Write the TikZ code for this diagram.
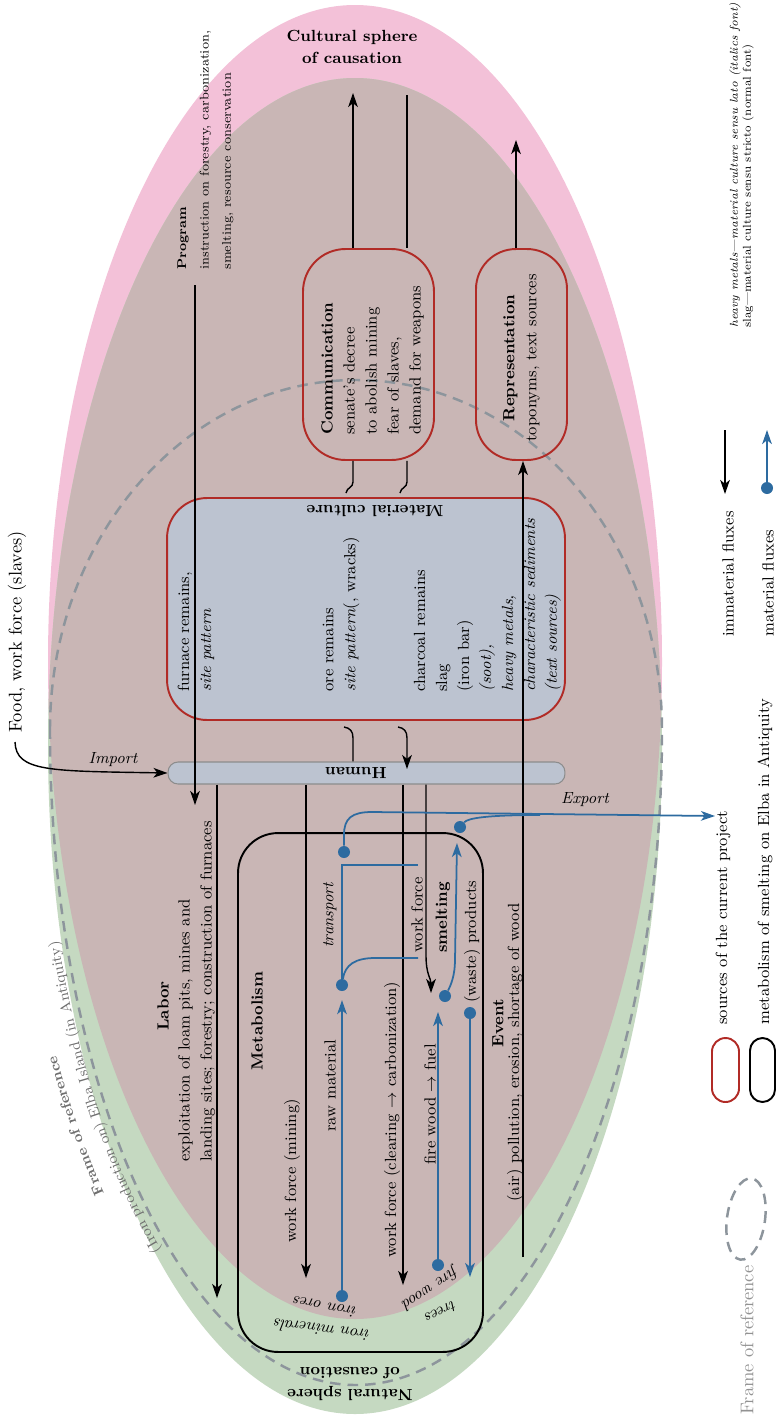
\documentclass[tikz,border=0pt]{standalone}
\usetikzlibrary{arrows.meta,shapes.geometric,decorations.text,positioning}
\definecolor{cultpink}{HTML}{F3C1D8}
\definecolor{natgreen}{HTML}{C5D9C1}
\definecolor{overlap}{HTML}{C9B6B5}
\definecolor{mcblue}{HTML}{BCC3D0}
\definecolor{humangray}{HTML}{8C8C8C}
\definecolor{srcred}{HTML}{B12B26}
\definecolor{fluxblue}{HTML}{2D6BA0}
\definecolor{framegray}{HTML}{8D959C}
\definecolor{frametxt}{HTML}{6E6E6E}
\definecolor{legframe}{HTML}{929292}
\newcommand\diagfont{\fontsize{9.2}{12.5}\selectfont}
\tikzset{
  txt/.style={font=\diagfont, inner sep=0pt},
  vtxt/.style={txt, rotate=90, anchor=west, align=left},
  hd/.style={txt, font=\diagfont\bfseries},
  srcbox/.style={draw=srcred, line width=1.1pt},
  blk/.style={draw=black, line width=0.8pt},
  imm/.style={blk, -{Stealth[length=8pt,width=5.5pt,inset=2.2pt]}},
  matl/.style={draw=fluxblue, line width=1pt},
  mat/.style={matl, -{Stealth[length=8pt,width=5.5pt,inset=2.2pt]}},
  bdot/.style={circle, fill=fluxblue, inner sep=0pt, minimum size=0.24cm},
  refdash/.style={draw=framegray, line width=1.4pt, dash pattern=on 6pt off 4pt},
}
\begin{document}
\begin{tikzpicture}[x=0.02cm,y=0.02cm]
\useasboundingbox (0,0) rectangle (776,-1420);

% spheres of causation
\fill[cultpink] (355,-662) ellipse (307 and 657);
\fill[natgreen] (355,-746) ellipse (307 and 668);
\begin{scope}
\clip (355,-662) ellipse (307 and 657);
\fill[overlap] (355,-746) ellipse (307 and 668);
\end{scope}
\node[hd, align=center] (cultural) at (352,-47) {Cultural sphere\\of causation};
\node[hd, align=center, rotate=180] (natural) at (350,-1384) {Natural sphere\\of causation};

% frame of reference
\draw[refdash] (50,-730) arc[start angle=180, end angle=0, x radius=306, y radius=350]
  arc[start angle=0, end angle=-180, x radius=306, y radius=655];
\path[decorate, decoration={text along path, text color=frametxt,
  text={|\fontsize{8.2}{9}\selectfont\bfseries|Frame of reference}}]
  (104.2,-1193) arc[start angle=222.2, end angle=192, x radius=340, y radius=689];
\path[decorate, decoration={text along path, text color=frametxt,
  text={|\fontsize{8.4}{10}\selectfont|(Iron production on) Elba Island (in Antiquity)}}]
  (161.2,-1250) arc[start angle=231.66, end angle=186, x radius=314, y radius=663];

% boxes
\node[srcbox, fill=mcblue, rounded corners=0.8cm, minimum width=7.96cm, minimum height=4.44cm] (matcult) at (366,-609) {};
\node[draw=humangray, line width=0.6pt, fill=mcblue, rounded corners=0.2cm, minimum width=7.94cm, minimum height=0.44cm] (human) at (366.5,-773) {};
\node[srcbox, rounded corners=0.85cm, minimum width=2.62cm, minimum height=4.22cm] (comm) at (368.5,-354.5) {};
\node[srcbox, rounded corners=0.8cm, minimum width=1.82cm, minimum height=4.22cm] (repr) at (521.5,-354.5) {};
\node[draw=black, line width=1.1pt, rounded corners=0.8cm, minimum width=4.9cm, minimum height=10.38cm] (metab) at (360.5,-1092.5) {};

% texts
\node[vtxt, font=\fontsize{7.2}{12.7}\selectfont] (program) at (205.5,-270) {\textbf{Program}\\instruction on forestry, carbonization,\\smelting, resource conservation};
\node[hd, rotate=90] (laborhd) at (163,-1006) {Labor};
\node[vtxt] (labor) at (196.5,-1162) {exploitation of loam pits, mines and\\landing sites; forestry; construction of furnaces};
\node[vtxt] (commtxt) at (372.5,-435) {\textbf{Communication}\\senate's decree\\to abolish mining\\fear of slaves,\\demand for weapons};
\node[txt, rotate=90, align=center] (reprtxt) at (521.5,-358) {\textbf{Representation}\\toponyms, text sources};
\node[hd, rotate=180] (mctitle) at (375,-511) {Material culture};
\node[vtxt] (furnace) at (196,-692) {furnace remains,\\\textit{site pattern}};
\node[vtxt] (ore) at (341,-692) {ore remains\\\textit{site pattern}(, wracks)};
\node[vtxt] (charcoal) at (487.5,-692) {charcoal remains\\slag\\(iron bar)\\\textit{(soot),}\\\textit{heavy metals,}\\\textit{characteristic sediments}\\\textit{(text sources)}};
\node[hd, rotate=180] (humantxt) at (356,-773) {Human};
\node[hd, rotate=90] (metabtxt) at (257,-1021) {Metabolism};
\node[vtxt] (wfmin) at (292,-1243) {work force (mining)};
\node[vtxt] (rawtxt) at (330,-1132) {raw material};
\node[vtxt] (wfclr) at (392,-1258) {work force (clearing $\to$ carbonization)};
\node[vtxt] (firetxt) at (430,-1165) {fire wood $\to$ fuel};
\node[vtxt, font=\diagfont\itshape] (transtxt) at (330,-948) {transport};
\node[vtxt] (wfsm) at (417,-953) {work force};
\node[vtxt, font=\diagfont\bfseries] (smelttxt) at (443,-953) {smelting};
\node[vtxt] (wastetxt) at (472,-1003) {(waste) products};
\node[hd, rotate=90] (eventhd) at (498,-1023) {Event};
\node[vtxt] (event) at (515,-1202) {(air) pollution, erosion, shortage of wood};
\node[txt, font=\diagfont\itshape, rotate=170] (ironores) at (325,-1307) {iron ores};
\node[txt, font=\diagfont\itshape, rotate=173] (ironmin) at (322,-1330) {iron minerals};
\node[txt, font=\diagfont\itshape, rotate=214] (firewd) at (430,-1288) {fire wood};
\node[txt, font=\diagfont\itshape, rotate=207] (trees) at (441,-1312) {trees};
\node[vtxt, font=\fontsize{10.5}{12}\selectfont] (food) at (17,-733) {Food, work force (slaves)};
\node[txt, font=\diagfont\itshape] (import) at (113,-760) {Import};
\node[txt, font=\diagfont\itshape] (export) at (585,-800) {Export};

% immaterial fluxes
\coordinate (progTop) at (195,-285);
\coordinate (progEnd) at (195,-805);
\draw[imm] (progTop) -- (progEnd);
\coordinate (commUp) at (353,-93);
\coordinate (commDn) at (407,-95);
\coordinate (humHit) at (407,-769);
\draw[imm] (comm.north -| commUp) -- (commUp);
\draw[blk] (commDn) -- (comm.north -| commDn);
\draw[blk] (comm.south -| commUp) -- (353,-482) .. controls (353,-488) and (347,-487) .. (346,-493);
\draw[blk] (comm.south -| commDn) -- (407,-482) .. controls (407,-488) and (401,-487) .. (400,-493);
\draw[blk] (344,-727) .. controls (350,-728) and (353,-731) .. (353,-738) -- (human.north -| commUp);
\draw[imm] (398,-727) .. controls (404,-728) and (407,-731) .. (407,-738) -- (humHit);
\coordinate (laborEnd) at (217,-1298);
\coordinate (minEnd) at (306,-1278);
\coordinate (clrEnd) at (403,-1285);
\coordinate (smBend) at (426,-955);
\coordinate (smEnd) at (431,-993);
\draw[imm] (human.south -| laborEnd) -- (laborEnd);
\draw[imm] (human.south -| minEnd) -- (minEnd);
\draw[imm] (human.south -| clrEnd) -- (clrEnd);
\draw[imm] (human.south -| smBend) -- (smBend) .. controls (426,-975) and (431,-978) .. (smEnd);
\coordinate (eventStart) at (523,-1257);
\draw[imm] (eventStart) -- (repr.south -| eventStart);
\coordinate (reprEnd) at (516,-140);
\draw[imm] (repr.north -| reprEnd) -- (reprEnd);
\coordinate (foodEnd) at (15,-742);
\draw[imm] (foodEnd) .. controls (16,-772) and (50,-771) .. (human.west);

% material fluxes
\node[bdot] (oreDot) at (342,-1296) {};
\node[bdot] (trDot) at (342,-985) {};
\draw[mat, shorten >=5pt] (oreDot) -- (trDot);
\coordinate (trCorner) at (342,-865);
\coordinate (trEndA) at (418,-865);
\coordinate (trEndB) at (418,-958);
\draw[matl] (trDot) -- (trCorner) -- (trEndA);
\draw[matl] (trDot) .. controls (345,-965) and (355,-958) .. (375,-958) -- (trEndB);
\node[bdot] (expDotA) at (344,-852) {};
\node[bdot] (expDotB) at (460,-827) {};
\coordinate (exportEnd) at (715,-816);
\draw[mat] (expDotA) -- (344,-835) .. controls (344,-818) and (352,-812) .. (372,-812) -- (exportEnd);
\draw[matl] (expDotB) .. controls (468,-818) and (488,-815) .. (540,-815);
\node[bdot] (smDot) at (445,-996) {};
\node[bdot] (fwDot) at (438,-1265) {};
\coordinate (fwEnd) at (438,-1012);
\draw[mat] (fwDot) -- (fwEnd);
\coordinate (wasteEnd) at (457,-843);
\draw[mat] (smDot) .. controls (451,-985) and (455,-975) .. (455,-960) -- (wasteEnd);
\node[bdot] (wDot) at (470,-1013) {};
\coordinate (wDotEnd) at (470,-1277);
\draw[mat] (wDot) -- (wDotEnd);

% legend
\node[vtxt, font=\fontsize{6.5}{7.4}\selectfont] (lgFont) at (741.5,-328) {\textit{heavy metals---material culture sensu lato (italics font)}\\slag---material culture sensu stricto (normal font)};
\coordinate (lgImmA) at (725,-430);
\coordinate (lgImmB) at (725,-494);
\draw[imm] (lgImmA) -- (lgImmB);
\node[bdot] (lgDot) at (767,-488) {};
\coordinate (lgMatEnd) at (767,-430);
\draw[mat] (lgDot) -- (lgMatEnd);
\node[vtxt] (lgImm) at (728,-637) {immaterial fluxes};
\node[vtxt] (lgMat) at (768,-637) {material fluxes};
\node[srcbox, rounded corners=0.27cm, minimum width=0.54cm, minimum height=1.28cm] (lgSrc) at (725.5,-1070) {};
\node[draw=black, line width=1.1pt, rounded corners=0.25cm, minimum width=0.5cm, minimum height=1.28cm] (lgMet) at (762.5,-1070) {};
\node[vtxt] (lgSrcTxt) at (723,-1025) {sources of the current project};
\node[vtxt] (lgMetTxt) at (765,-1025) {metabolism of smelting on Elba in Antiquity};
\node[ellipse, refdash, minimum width=0.76cm, minimum height=1.64cm, rotate=-8] (lgFrame) at (746,-1219) {};
\node[vtxt, font=\fontsize{10.5}{12}\selectfont, text=legframe] (lgFrameTxt) at (747,-1415) {Frame of reference};
\end{tikzpicture}
\end{document}
